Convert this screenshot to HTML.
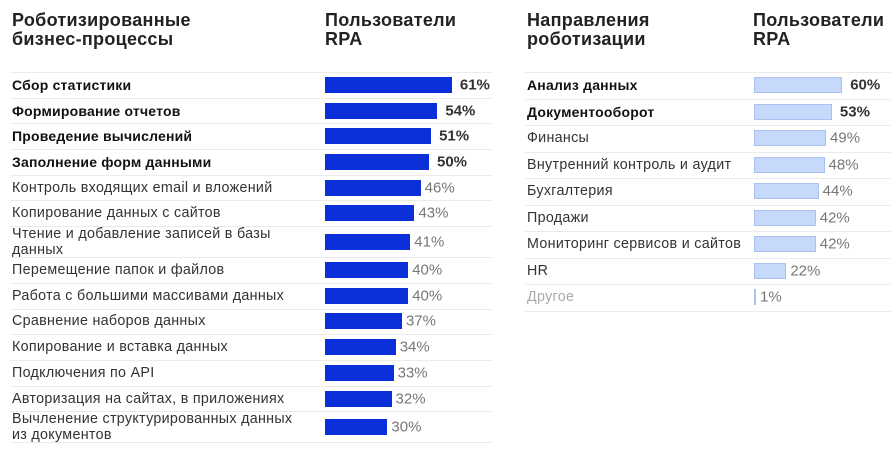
<!DOCTYPE html>
<html><head><meta charset="utf-8"><style>
body{margin:0;width:891px;height:458px;background:#fff;overflow:hidden;font-family:"Liberation Sans","DejaVu Sans",sans-serif;position:relative}
.h{position:absolute;font-weight:bold;font-size:18px;line-height:19px;color:#222;letter-spacing:0.3px}
.sep{position:absolute;height:1px;background:#ebebeb}
.lbl{position:absolute;font-size:14.3px;line-height:16px;color:#333;transform:translateY(-50%);letter-spacing:0.3px}
.b{font-weight:bold;color:#111;font-size:14px;letter-spacing:0.2px}
.bar{position:absolute;height:16px}
.val{position:absolute;font-size:15px;color:#777;transform:translateY(-50%)}
.vb{font-weight:bold;color:#333}
</style></head><body>
<div class="h" style="left:12px;top:11px">Роботизированные<br>бизнес-процессы</div>
<div class="h" style="left:325px;top:11px">Пользователи<br>RPA</div>
<div class="h" style="left:527px;top:11px">Направления<br>роботизации</div>
<div class="h" style="left:753px;top:11px">Пользователи<br>RPA</div>
<script>
const leftLabels=["Сбор статистики","Формирование отчетов","Проведение вычислений","Заполнение форм данными","Контроль входящих email и вложений","Копирование данных с сайтов","Чтение и добавление записей в базы данных","Перемещение папок и файлов","Работа с большими массивами данных","Сравнение наборов данных","Копирование и вставка данных","Подключения по API","Авторизация на сайтах, в приложениях","Вычленение структурированных данных из документов"];
const leftValues=[61,54,51,50,46,43,41,40,40,37,34,33,32,30];
const leftBold=[1,1,1,1,0,0,0,0,0,0,0,0,0,0];
const rightLabels=["Анализ данных","Документооборот","Финансы","Внутренний контроль и аудит","Бухгалтерия","Продажи","Мониторинг сервисов и сайтов","HR","Другое"];
const rightValues=[60,53,49,48,44,42,42,22,1];
const rightBold=[1,1,0,0,0,0,0,0,0];
function panel(labels,values,bold,cfg){
  let y=72;
  const sep=document.createElement('div');sep.className='sep';
  
  
  sep.style.cssText=`left:${cfg.x0}px;width:${cfg.x1-cfg.x0}px;top:${y}px`;document.body.appendChild(sep);
  labels.forEach((t,i)=>{
    const two=t.length>38;const h=two?31:cfg.rh;const cy=y+h/2;
    const l=document.createElement('div');l.className='lbl'+(bold[i]?' b':'');
    
    
    l.style.cssText=`left:${cfg.lx}px;top:${cy}px;width:${two?cfg.ww:cfg.bx-cfg.lx-4}px`+(t==='Другое'?';color:#aaa':'');
    l.textContent=t;document.body.appendChild(l);
    const w=values[i]*cfg.sc;
    const b=document.createElement('div');b.className='bar';
    
    
    b.style.cssText=`left:${cfg.bx}px;top:${cy-8}px;width:${Math.max(w,2)}px;background:${cfg.col};`+(cfg.bd?`box-shadow:inset 0 0 0 1px ${cfg.bd}`:'');
    document.body.appendChild(b);
    const v=document.createElement('div');v.className='val'+(bold[i]?' vb':'');
    
    
    v.style.cssText=`left:${cfg.bx+Math.max(w,2)+(bold[i]?8:4)}px;top:${cy}px`;
    v.textContent=values[i]+'%';document.body.appendChild(v);
    y+=h;
    const s=document.createElement('div');s.className='sep';
    
    
    s.style.cssText=`left:${cfg.x0}px;width:${cfg.x1-cfg.x0}px;top:${Math.round(y)}px`;document.body.appendChild(s);
  });
}
panel(leftLabels,leftValues,leftBold,{p:'left',x0:10,x1:492,lx:12,bx:325,sc:2.08,rh:25.7,col:'#0b2fd8',ww:292});
panel(rightLabels,rightValues,rightBold,{p:'right',x0:525,x1:891,lx:527,bx:754,sc:1.47,rh:26.5,col:'#c6d9fb',bd:'#a8c1ee',ww:220});
</script>
</body></html>
